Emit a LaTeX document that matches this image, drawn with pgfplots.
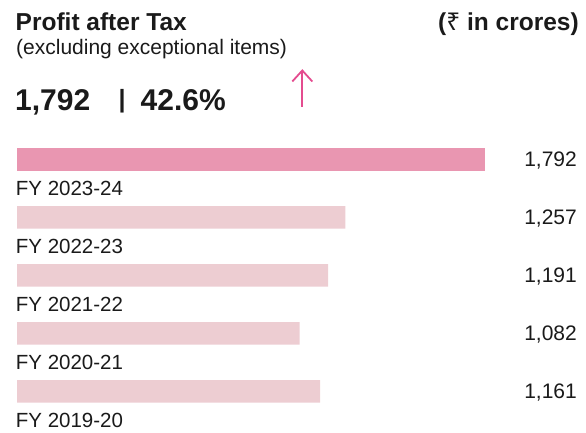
\documentclass[border=0pt]{standalone}
\usepackage{pgfplots}
\pgfplotsset{compat=1.18}
\usepackage{pgfplotstable}
\usepackage{fontspec}
\setmainfont{Liberation Sans}
\newfontfamily\rupeefont{Noto Sans}
\definecolor{barhi}{HTML}{E996B1}
\definecolor{barlo}{HTML}{EDCDD2}
\definecolor{arrowpink}{HTML}{E44C8F}
\definecolor{txt}{HTML}{1A1A1A}

\pgfplotstableread{
idx value label
0 1792 {FY 2023-24}
1 1257 {FY 2022-23}
2 1191 {FY 2021-22}
3 1082 {FY 2020-21}
4 1161 {FY 2019-20}
}\pat

\begin{document}
\begin{tikzpicture}[x=1pt,y=1pt]
\useasboundingbox (0,0) rectangle (586,433);
\node[anchor=base west, inner sep=0, text=txt, font=\fontsize{24.5}{29}\selectfont\bfseries] at (15.5,402.3) {Profit after Tax};
\node[anchor=base east, inner sep=0, text=txt, font=\fontsize{24.5}{29}\selectfont\bfseries] at (579,402.3) {({\rupeefont\bfseries ₹} in crores)};
\node[anchor=base west, inner sep=0, text=txt, font=\fontsize{21}{25}\selectfont] at (16,378) {(excluding exceptional items)};
\node[anchor=base west, inner sep=0, text=txt, font=\fontsize{30}{36}\selectfont\bfseries] at (15,322) {1,792};
\node[anchor=base, inner sep=0, text=txt, font=\fontsize{25}{30}\selectfont\bfseries] at (122.2,325.5) {|};
\node[anchor=base west, inner sep=0, text=txt, font=\fontsize{30}{36}\selectfont\bfseries] at (140.5,322) {42.6\%};
\draw[arrowpink, line width=1.8pt] (302.3,326) -- (302.3,362);
\draw[arrowpink, line width=1.8pt, line join=miter] (292.3,351.5) -- (302.3,362.5) -- (312.3,351.5);
\begin{axis}[
  at={(17pt,12.65pt)}, anchor=south west,
  scale only axis, width=560pt, height=290pt,
  xmin=0, xmax=2144.3, ymin=-0.5, ymax=4.5, y dir=reverse,
  axis lines=none, clip=false,
  /pgf/number format/assume math mode=true,
]
\addplot[xbar, bar width=22.7pt, bar shift=0pt, fill=barhi, draw=none,
  skip coords between index={1}{5}] table[x=value,y=idx] \pat;
\addplot[xbar, bar width=22.7pt, bar shift=0pt, fill=barlo, draw=none,
  skip coords between index={0}{1}] table[x=value,y=idx] \pat;
\addplot[draw=none, mark=none, point meta=explicit,
  nodes near coords={\pgfmathprintnumber[fixed,precision=0,1000 sep={,},assume math mode=true]{\pgfplotspointmeta}},
  nodes near coords style={anchor=base east, yshift=-7.4pt, inner sep=0pt,
    font=\fontsize{21}{25}\selectfont, text=txt}]
  table[x expr=2144.3, y=idx, meta=value] \pat;
\addplot[draw=none, mark=none, point meta=explicit symbolic,
  nodes near coords={\pgfplotspointmeta},
  nodes near coords style={anchor=base west, yshift=-36pt, xshift=-1.3pt, inner sep=0pt,
    font=\fontsize{20.5}{24}\selectfont, text=txt}]
  table[x expr=0, y=idx, meta=label] \pat;
\end{axis}
\end{tikzpicture}
\end{document}
